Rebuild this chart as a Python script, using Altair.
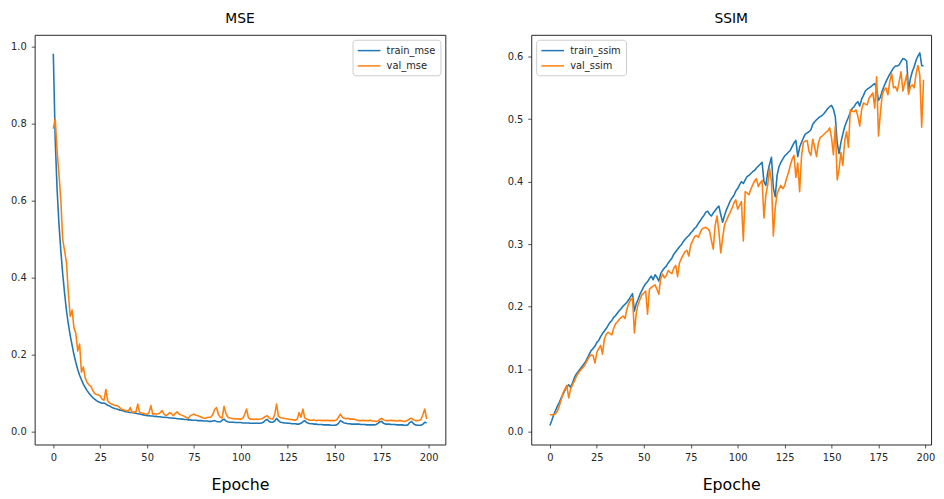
import altair as alt
import pandas as pd

epochs = list(range(200))

train_mse = [
    0.982, 0.760, 0.630, 0.540, 0.470, 0.410, 0.360, 0.315, 0.280, 0.250,
    0.225, 0.200, 0.180, 0.162, 0.147, 0.135, 0.124, 0.115, 0.107, 0.100,
    0.094, 0.089, 0.085, 0.081, 0.078, 0.076, 0.074, 0.075, 0.072, 0.069,
    0.067, 0.064, 0.062, 0.060, 0.059, 0.057, 0.056, 0.055, 0.053, 0.052,
    0.051, 0.050, 0.050, 0.049, 0.048, 0.047, 0.046, 0.045, 0.044, 0.043,
    0.042, 0.042, 0.041, 0.041, 0.040, 0.040, 0.039, 0.039, 0.038, 0.038,
    0.037, 0.037, 0.036, 0.036, 0.035, 0.035, 0.034, 0.034, 0.033, 0.033,
    0.032, 0.032, 0.031, 0.031, 0.030, 0.030, 0.030, 0.029, 0.029, 0.029,
    0.028, 0.028, 0.028, 0.027, 0.027, 0.028, 0.029, 0.027, 0.026, 0.026,
    0.030, 0.033, 0.028, 0.026, 0.025, 0.025, 0.025, 0.024, 0.024, 0.024,
    0.024, 0.023, 0.023, 0.023, 0.023, 0.022, 0.022, 0.022, 0.022, 0.022,
    0.022, 0.023, 0.025, 0.030, 0.032, 0.027, 0.025, 0.025, 0.028, 0.035,
    0.029, 0.025, 0.024, 0.023, 0.023, 0.022, 0.022, 0.021, 0.021, 0.021,
    0.020, 0.020, 0.022, 0.026, 0.029, 0.024, 0.022, 0.021, 0.021, 0.020,
    0.020, 0.019, 0.019, 0.019, 0.018, 0.018, 0.018, 0.018, 0.017, 0.017,
    0.017, 0.018, 0.022, 0.029, 0.026, 0.023, 0.022, 0.021, 0.021, 0.020,
    0.020, 0.020, 0.020, 0.020, 0.019, 0.019, 0.019, 0.018, 0.018, 0.018,
    0.018, 0.018, 0.019, 0.022, 0.026, 0.027, 0.022, 0.020, 0.020, 0.020,
    0.019, 0.019, 0.019, 0.018, 0.018, 0.018, 0.018, 0.017, 0.017, 0.018,
    0.024, 0.027, 0.021, 0.018, 0.017, 0.017, 0.017, 0.020, 0.025, 0.023,
]

val_mse = [
    0.787, 0.813, 0.730, 0.670, 0.600, 0.500, 0.470, 0.440, 0.360, 0.300,
    0.316, 0.270, 0.255, 0.210, 0.228, 0.155, 0.168, 0.140, 0.128, 0.122,
    0.118, 0.108, 0.100, 0.097, 0.096, 0.093, 0.085, 0.082, 0.110, 0.080,
    0.075, 0.072, 0.070, 0.068, 0.068, 0.065, 0.059, 0.058, 0.056, 0.055,
    0.054, 0.063, 0.050, 0.052, 0.051, 0.072, 0.050, 0.049, 0.048, 0.046,
    0.046, 0.050, 0.068, 0.046, 0.047, 0.046, 0.047, 0.050, 0.055, 0.046,
    0.042, 0.045, 0.050, 0.047, 0.042, 0.048, 0.052, 0.046, 0.044, 0.042,
    0.040, 0.037, 0.035, 0.042, 0.044, 0.046, 0.043, 0.042, 0.040, 0.038,
    0.036, 0.035, 0.037, 0.038, 0.038, 0.045, 0.058, 0.063, 0.045, 0.038,
    0.036, 0.066, 0.048, 0.038, 0.036, 0.035, 0.034, 0.033, 0.034, 0.033,
    0.033, 0.035, 0.045, 0.059, 0.036, 0.033, 0.033, 0.032, 0.033, 0.032,
    0.033, 0.034, 0.036, 0.040, 0.042, 0.036, 0.034, 0.033, 0.045, 0.072,
    0.040, 0.037, 0.036, 0.035, 0.034, 0.033, 0.032, 0.032, 0.031, 0.030,
    0.033, 0.050, 0.038, 0.059, 0.036, 0.033, 0.031, 0.030, 0.030, 0.031,
    0.029, 0.030, 0.030, 0.029, 0.030, 0.029, 0.030, 0.029, 0.029, 0.029,
    0.029, 0.031, 0.038, 0.046, 0.038, 0.035, 0.034, 0.035, 0.033, 0.033,
    0.033, 0.032, 0.030, 0.029, 0.029, 0.030, 0.029, 0.029, 0.029, 0.030,
    0.028, 0.028, 0.027, 0.028, 0.032, 0.035, 0.031, 0.029, 0.029, 0.029,
    0.030, 0.029, 0.029, 0.028, 0.029, 0.029, 0.028, 0.027, 0.028, 0.030,
    0.034, 0.035, 0.031, 0.029, 0.029, 0.030, 0.032, 0.045, 0.059, 0.033,
]

train_ssim = [
    0.010, 0.018, 0.027, 0.034, 0.041, 0.047, 0.054, 0.060, 0.066, 0.072,
    0.075, 0.071, 0.078, 0.086, 0.092, 0.096, 0.100, 0.104, 0.108, 0.112,
    0.118, 0.124, 0.130, 0.133, 0.137, 0.143, 0.146, 0.152, 0.157, 0.161,
    0.165, 0.170, 0.175, 0.178, 0.183, 0.186, 0.190, 0.194, 0.197, 0.201,
    0.204, 0.207, 0.211, 0.216, 0.221, 0.193, 0.205, 0.212, 0.220, 0.226,
    0.232, 0.237, 0.240, 0.245, 0.249, 0.243, 0.251, 0.247, 0.241, 0.253,
    0.258, 0.262, 0.265, 0.270, 0.274, 0.278, 0.284, 0.288, 0.292, 0.296,
    0.299, 0.304, 0.308, 0.311, 0.314, 0.318, 0.321, 0.325, 0.328, 0.333,
    0.337, 0.342, 0.346, 0.351, 0.353, 0.348, 0.345, 0.350, 0.354, 0.358,
    0.361, 0.347, 0.335, 0.346, 0.355, 0.362, 0.369, 0.374, 0.378, 0.385,
    0.389, 0.395, 0.400, 0.397, 0.403, 0.408, 0.410, 0.413, 0.416, 0.418,
    0.422, 0.425, 0.428, 0.431, 0.400, 0.394, 0.415, 0.428, 0.439, 0.390,
    0.376, 0.410, 0.424, 0.431, 0.436, 0.441, 0.444, 0.447, 0.450, 0.456,
    0.462, 0.466, 0.440, 0.455, 0.463, 0.470, 0.476, 0.478, 0.480, 0.483,
    0.492, 0.496, 0.499, 0.502, 0.504, 0.506, 0.509, 0.513, 0.517, 0.520,
    0.522, 0.516, 0.504, 0.462, 0.445, 0.463, 0.476, 0.488, 0.496, 0.503,
    0.511, 0.517, 0.520, 0.525, 0.528, 0.521, 0.532, 0.538, 0.545, 0.548,
    0.550, 0.552, 0.555, 0.557, 0.549, 0.530, 0.535, 0.545, 0.553, 0.560,
    0.566, 0.572, 0.577, 0.582, 0.585, 0.585, 0.587, 0.592, 0.597, 0.596,
    0.593, 0.546, 0.565, 0.576, 0.584, 0.594, 0.601, 0.606, 0.586, 0.585,
]

val_ssim = [
    0.027, 0.027, 0.027, 0.029, 0.033, 0.041, 0.051, 0.062, 0.068, 0.074,
    0.054, 0.068, 0.075, 0.081, 0.088, 0.093, 0.097, 0.101, 0.104, 0.109,
    0.115, 0.120, 0.123, 0.122, 0.110, 0.127, 0.133, 0.138, 0.124, 0.148,
    0.156, 0.159, 0.157, 0.155, 0.166, 0.173, 0.176, 0.180, 0.183, 0.185,
    0.181, 0.196, 0.205, 0.211, 0.214, 0.158, 0.190, 0.204, 0.212, 0.219,
    0.222, 0.225, 0.188, 0.228, 0.231, 0.233, 0.235, 0.228, 0.220, 0.245,
    0.252, 0.246, 0.250, 0.258, 0.255, 0.253, 0.262, 0.266, 0.248, 0.270,
    0.277, 0.283, 0.288, 0.290, 0.281, 0.299, 0.305, 0.312, 0.314, 0.311,
    0.318, 0.324, 0.326, 0.327, 0.325, 0.321, 0.306, 0.292, 0.330, 0.345,
    0.320, 0.286, 0.310, 0.331, 0.338, 0.345, 0.351, 0.358, 0.366, 0.371,
    0.356, 0.362, 0.368, 0.305, 0.384, 0.382, 0.379, 0.388, 0.395, 0.401,
    0.405, 0.392, 0.398, 0.402, 0.342, 0.378, 0.395, 0.421, 0.400, 0.313,
    0.358, 0.381, 0.388, 0.394, 0.389, 0.393, 0.405, 0.414, 0.426, 0.436,
    0.442, 0.407, 0.430, 0.384, 0.440, 0.463, 0.465, 0.466, 0.448, 0.442,
    0.468, 0.455, 0.440, 0.462, 0.471, 0.473, 0.476, 0.479, 0.481, 0.486,
    0.470, 0.443, 0.489, 0.403, 0.420, 0.447, 0.426, 0.465, 0.480, 0.455,
    0.515, 0.513, 0.512, 0.515, 0.505, 0.489, 0.515, 0.526, 0.524, 0.523,
    0.534, 0.538, 0.542, 0.518, 0.568, 0.473, 0.510, 0.539, 0.547, 0.550,
    0.539, 0.560, 0.573, 0.550, 0.552, 0.545, 0.560, 0.576, 0.545, 0.558,
    0.571, 0.540, 0.552, 0.555, 0.550, 0.572, 0.586, 0.571, 0.487, 0.563,
]

mse_names = ["train_mse", "val_mse"]
ssim_names = ["train_ssim", "val_ssim"]
x_ticks = [0, 25, 50, 75, 100, 125, 150, 175, 200]
mse_ticks = [0.0, 0.2, 0.4, 0.6, 0.8, 1.0]
ssim_ticks = [0.0, 0.1, 0.2, 0.3, 0.4, 0.5, 0.6]

BLUE = "#1f77b4"
ORANGE = "#ff7f0e"

mse_df = pd.DataFrame({
    "epoch": epochs + epochs,
    "value": train_mse + val_mse,
    "series": [mse_names[0]] * len(epochs) + [mse_names[1]] * len(epochs),
})
ssim_df = pd.DataFrame({
    "epoch": epochs + epochs,
    "value": train_ssim + val_ssim,
    "series": [ssim_names[0]] * len(epochs) + [ssim_names[1]] * len(epochs),
})


def panel(df, title, names, ydomain, yticks, xdomain, width, orient):
    return (
        alt.Chart(df, title=alt.TitleParams(title, anchor="middle"))
        .mark_line(strokeWidth=1.6, strokeJoin="round", clip=True)
        .encode(
            x=alt.X("epoch:Q",
                    scale=alt.Scale(domain=xdomain, nice=False, zero=False),
                    axis=alt.Axis(values=x_ticks, format="d", title="Epoche")),
            y=alt.Y("value:Q",
                    scale=alt.Scale(domain=ydomain, nice=False, zero=False),
                    axis=alt.Axis(values=yticks, format=".1f", title=None)),
            color=alt.Color(
                "series:N",
                scale=alt.Scale(domain=names, range=[BLUE, ORANGE]),
                legend=alt.Legend(
                    title=None, orient=orient, offset=5,
                    fillColor="white", strokeColor="#cccccc", cornerRadius=3,
                    padding=4.5, rowPadding=3.5,
                    symbolType="M-1,0H3", symbolSize=132, symbolStrokeWidth=1.5,
                    labelOffset=17, labelFont="DejaVu Sans", labelFontSize=10,
                    labelColor="#262626",
                ),
            ),
            order=alt.Order("series:N"),
        )
        .properties(width=width, height=415)
    )


left = panel(mse_df, "MSE", mse_names, [-0.033, 1.031], mse_ticks,
             [-9.95, 208.95], 416, "top-right")
right = panel(ssim_df, "SSIM", ssim_names, [-0.0205, 0.635], ssim_ticks,
              [-9.95, 203.0], 405, "top-left")

chart = (
    alt.hconcat(left, right, spacing=61)
    .resolve_scale(color="independent")
    .resolve_legend(color="independent")
    .properties(padding={"left": 2, "top": 0, "right": 0, "bottom": 0})
    .configure_view(stroke="#262626", strokeWidth=1)
    .configure_axis(
        domain=False, grid=False, ticks=True, tickSize=3.5, tickWidth=0.8,
        tickColor="#262626", labelFont="DejaVu Sans", labelFontSize=10,
        labelColor="#262626", labelPadding=5,
        titleFont="DejaVu Sans", titleFontSize=16, titleFontWeight="normal",
        titleColor="#000000", titlePadding=14,
    )
    .configure_title(font="DejaVu Sans", fontSize=14, fontWeight="normal",
                     color="#000000", offset=9)
)

chart.save("out.html", embed_options={"renderer": "svg", "actions": False})
